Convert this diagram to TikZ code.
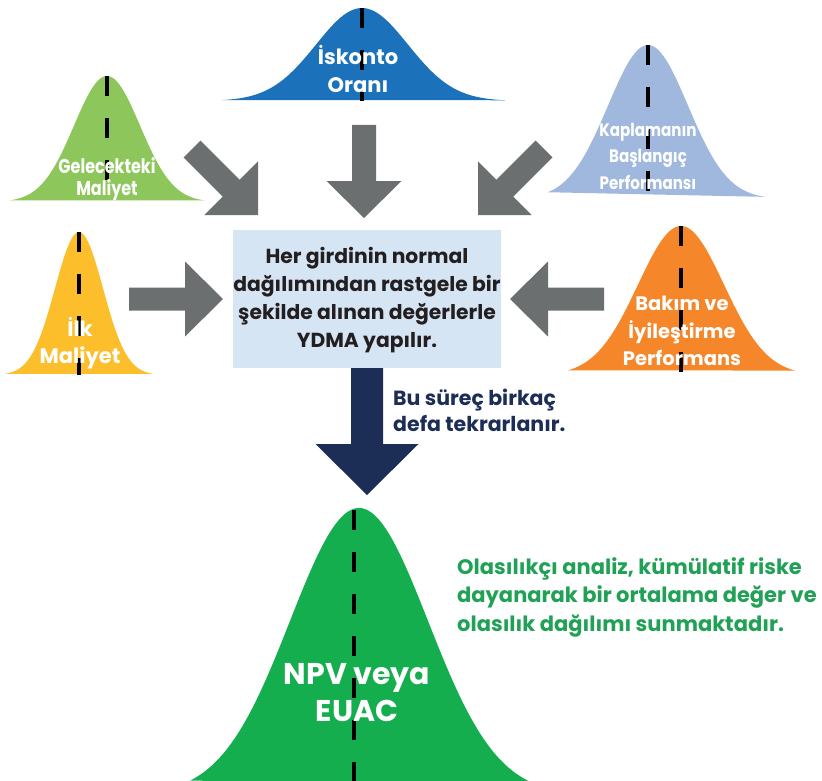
\documentclass[tikz,border=0pt]{standalone}
\usepackage{graphicx}
\usepackage{fontspec}
\setmainfont{Poppins}
\usetikzlibrary{calc}
\newcommand\cond[2]{\scalebox{#1}[1]{#2}}
\definecolor{cblue}{RGB}{27,114,186}
\definecolor{clgreen}{RGB}{141,198,91}
\definecolor{clblue}{RGB}{160,184,222}
\definecolor{cyellow}{RGB}{253,190,44}
\definecolor{corange}{RGB}{245,134,42}
\definecolor{cgreen}{RGB}{21,174,78}
\definecolor{ctgreen}{RGB}{32,161,86}
\definecolor{cgray}{RGB}{108,111,112}
\definecolor{cnavy}{RGB}{28,45,86}
\definecolor{cbox}{RGB}{214,229,244}
\definecolor{cboxtext}{RGB}{35,31,32}
\newcommand\bell[7]{% color, center, base, height, sigma, from, to
  \fill[#1] plot[domain=#6:#7,samples=90,smooth] (\x,{#3-#4*exp(-0.5*((\x-#2)/#5)^2)}) -- cycle;
  \draw[meanline] (#2,#3-#4) -- (#2,#3);}
\newcommand\blockarrow[6]{% color, tail, tip, shaft half, head half, head length
  \fill[#1] ($(#3)!#6!(#2)$) coordinate (bb)
    ($(#2)!#4!90:(#3)$) -- ($(bb)!#4!90:(#3)$) -- ($(bb)!#5!90:(#3)$) -- (#3)
    -- ($(bb)!#5!-90:(#3)$) -- ($(bb)!#4!-90:(#3)$) -- ($(#2)!#4!-90:(#3)$) -- cycle;}
\tikzset{
  meanline/.style={black,line width=4pt,dash pattern=on 20pt off 22pt},
  belltext/.style={text=white,font=\bfseries,align=center,inner sep=0pt},
}
\begin{document}
\begin{tikzpicture}[x=1pt,y=-1pt]
\useasboundingbox (0,0) rectangle (822,781);
% bells
\bell{cblue}{362}{101}{93}{46}{222}{505}
\bell{clgreen}{107}{202}{126}{33}{10}{205}
\bell{clblue}{648}{199}{154}{40}{548}{765}
\bell{cyellow}{79}{375}{143}{24}{5}{153}
\bell{corange}{681}{375}{149}{43}{568}{795}
\begin{scope}
\clip (0,0) rectangle (822,781);
\fill[cgreen] plot[domain=190:530,samples=100,smooth] (\x,{795-287*exp(-0.5*((\x-359)/69)^2)}) -- cycle;
\draw[meanline] (354,510) -- (354,781);
\end{scope}
% bell labels
\node[belltext,font=\bfseries\fontsize{20}{22}\selectfont] (gel) at (107,179)
  {\cond{0.8}{Gelecekteki}\\\cond{0.8}{Maliyet}};
\node[belltext,font=\bfseries\fontsize{18}{26.5}\selectfont] (kap) at (648,156)
  {\cond{0.84}{Kaplamanın}\\\cond{0.84}{Başlangıç}\\\cond{0.84}{Performansı}};
\node[belltext,font=\bfseries\fontsize{21}{28}\selectfont] (isk) at (358,69) {İskonto\\Oranı};
\node[belltext,font=\bfseries\fontsize{21}{27}\selectfont] (ilk) at (80,343) {İlk\\Maliyet};
\node[belltext,font=\bfseries\fontsize{19.5}{27.5}\selectfont] (bak) at (682,331) {Bakım ve\\İyileştirme\\Performans};
\node[belltext,font=\bfseries\fontsize{30}{37}\selectfont] (npv) at (357,693) {NPV veya\\EUAC};
% central box
\fill[cbox] (233,230) rectangle (501,368);
\node[text=cboxtext,font=\bfseries\fontsize{20.3}{28}\selectfont,align=center,inner sep=0pt] (box) at (367,300)
  {Her girdinin normal\\dağılımından rastgele bir\\şekilde alınan değerlerle\\YDMA yapılır.};
% arrow end points
\coordinate (a1t) at (364,125); \coordinate (a1h) at (364,218);
\coordinate (a2t) at (192,149); \coordinate (a2h) at (258,215);
\coordinate (a3t) at (544,149); \coordinate (a3h) at (478,215);
\coordinate (a4t) at (129,299); \coordinate (a4h) at (223,299);
\coordinate (a5t) at (604,299); \coordinate (a5h) at (510,299);
\coordinate (a6t) at (367,368); \coordinate (a6h) at (367,495);
\blockarrow{cgray}{a1t}{a1h}{12pt}{37.5pt}{37pt}
\blockarrow{cgray}{a2t}{a2h}{12pt}{38pt}{38pt}
\blockarrow{cgray}{a3t}{a3h}{12pt}{38pt}{38pt}
\blockarrow{cgray}{a4t}{a4h}{11.5pt}{37.5pt}{38pt}
\blockarrow{cgray}{a5t}{a5h}{11.5pt}{37.5pt}{38pt}
\blockarrow{cnavy}{a6t}{a6h}{16pt}{51.5pt}{51pt}
% side texts
\node[text=cnavy,font=\bfseries\fontsize{20.5}{26}\selectfont,align=left,anchor=west,inner sep=0pt] (rep) at (393,410)
  {Bu süreç birkaç\\defa tekrarlanır.};
\node[text=ctgreen,font=\bfseries\fontsize{21}{28.5}\selectfont,align=left,anchor=west,inner sep=0pt] (res) at (457,597)
  {Olasılıkçı analiz, kümülatif riske\\dayanarak bir ortalama değer ve\\olasılık dağılımı sunmaktadır.};
\end{tikzpicture}
\end{document}
